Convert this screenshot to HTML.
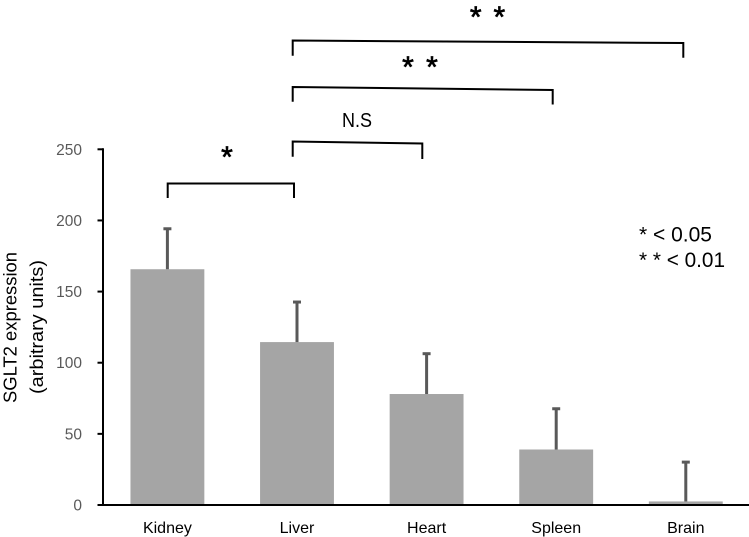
<!DOCTYPE html>
<html>
<head>
<meta charset="utf-8">
<title>SGLT2 expression chart</title>
<style>
html,body{margin:0;padding:0;background:#fff;}
svg{display:block;font-family:"Liberation Sans",sans-serif;}
</style>
</head>
<body>
<svg id="chart" width="749" height="537" viewBox="0 0 749 537" xmlns="http://www.w3.org/2000/svg">
  <g id="bars"></g>
  <g id="errors"></g>
  <g id="axes"></g>

  <g font-size="18.5" fill="#000">
    <text transform="translate(16.5,403) rotate(-90)" textLength="151" lengthAdjust="spacingAndGlyphs">SGLT2 expression</text>
    <text transform="translate(43,394) rotate(-90)" textLength="134" lengthAdjust="spacingAndGlyphs">(arbitrary units)</text>
  </g>

  <g fill="none" stroke="#000" stroke-width="2">
    <path d="M167.7 198V183.5H294V198"/>
    <path d="M292.7 156.7V141.5L422.3 143.5V159"/>
    <path d="M292.7 101.7V87L552.7 90V104.5"/>
    <path d="M292.7 55.7V40.5L683.3 43V57.7"/>
  </g>

  <g fill="#000" stroke="#000" stroke-width="0.7" text-anchor="middle">
    <text x="227" y="167" font-size="30">*</text>
    <text x="408" y="77" font-size="30">*</text>
    <text x="432" y="77" font-size="30">*</text>
    <text x="475.7" y="27" font-size="30">*</text>
    <text x="499.3" y="27" font-size="30">*</text>
  </g>
  <text x="342" y="127" font-size="20" fill="#000" textLength="30" lengthAdjust="spacingAndGlyphs">N.S</text>

  <g fill="#000" font-size="21">
    <text x="639" y="241.5" textLength="73" lengthAdjust="spacingAndGlyphs">* &lt; 0.05</text>
    <text x="639" y="267" textLength="86" lengthAdjust="spacingAndGlyphs">* * &lt; 0.01</text>
  </g>
</svg>
<script>
var categories = ['Kidney', 'Liver', 'Heart', 'Spleen', 'Brain'];
var meanValues = [165.7, 114.5, 78, 39, 2.5];
var errorTops = [194.5, 143, 106.7, 68, 30.5];
var yTickValues = [0, 50, 100, 150, 200, 250];

var NS = 'http://www.w3.org/2000/svg';
var axisX = 103, plotLeft = 102.6, plotRight = 750.6, plotBottom = 505, plotTop = 149.3, yMax = 250;
var band = (plotRight - plotLeft) / categories.length;
var barWidth = band * 0.57;

function xScale(i) { return plotLeft + (i + 0.5) * band; }
function yScale(v) { return plotBottom - (v / yMax) * (plotBottom - plotTop); }
function make(tag, attrs, parent) {
  var el = document.createElementNS(NS, tag);
  for (var k in attrs) el.setAttribute(k, attrs[k]);
  parent.appendChild(el);
  return el;
}

var barsG = document.getElementById('bars');
var errorsG = document.getElementById('errors');
var axesG = document.getElementById('axes');

categories.forEach(function (name, i) {
  var cx = xScale(i);
  var top = yScale(meanValues[i]);
  var bar = make('rect', {x: cx - barWidth / 2, y: top, width: barWidth, height: plotBottom - top, fill: '#a5a5a5'}, barsG);
  
  

  var eTop = yScale(errorTops[i]);
  var stem = make('line', {x1: cx, x2: cx, y1: top, y2: eTop, stroke: '#595959', 'stroke-width': 3}, errorsG);
  
  
  var cap = make('line', {x1: cx - 4, x2: cx + 4, y1: eTop + 0.5, y2: eTop + 0.5, stroke: '#595959', 'stroke-width': 3}, errorsG);
  
  

  var label = make('text', {x: cx, y: 533, 'text-anchor': 'middle', 'font-size': 16, fill: '#000'}, axesG);
  
  
  label.textContent = name;
});

yTickValues.forEach(function (v) {
  var y = yScale(v);
  var tick = make('line', {x1: 97.5, x2: axisX, y1: y, y2: y, stroke: '#000', 'stroke-width': 2}, axesG);
  
  
  var label = make('text', {x: 82, y: y + 5.5, 'text-anchor': 'end', 'font-size': 15.5, fill: '#595959'}, axesG);
  
  
  label.textContent = v;
});

var yAxis = make('line', {x1: axisX, x2: axisX, y1: plotTop - 1, y2: plotBottom + 1, stroke: '#000', 'stroke-width': 2}, axesG);


var xAxis = make('line', {x1: 97.5, x2: 749, y1: plotBottom, y2: plotBottom, stroke: '#000', 'stroke-width': 2}, axesG);


</script>
</body>
</html>
